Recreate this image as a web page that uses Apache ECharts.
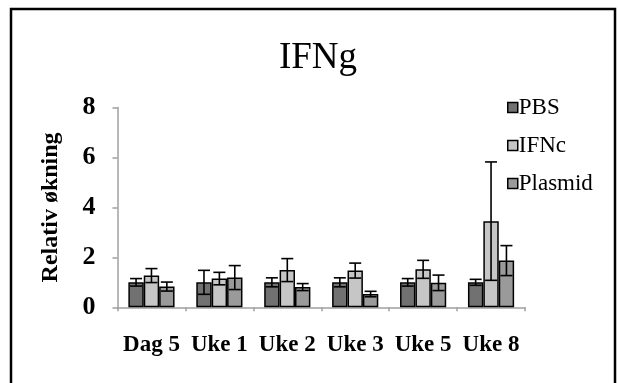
<!DOCTYPE html>
<html><head><meta charset="utf-8">
<script src="https://cdn.jsdelivr.net/npm/echarts@6/dist/echarts.min.js"></script>
<style>html,body{margin:0;padding:0;background:#fff}#c{width:618px;height:383px}</style>
</head><body><div id="c"></div>
<script>
var categories = ['Dag 5', 'Uke 1', 'Uke 2', 'Uke 3', 'Uke 5', 'Uke 8'];
var seriesNames = ['PBS', 'IFNc', 'Plasmid'];
var pbsValues = [1.0, 1.0, 1.0, 1.0, 1.0, 1.0];
var ifncValues = [1.27, 1.15, 1.49, 1.47, 1.52, 3.45];
var plasmidValues = [0.83, 1.19, 0.81, 0.53, 0.98, 1.87];
var pbsErrors = [0.15, 0.48, 0.18, 0.18, 0.15, 0.12];
var ifncErrors = [0.28, 0.25, 0.46, 0.30, 0.36, 2.37];
var plasmidErrors = [0.18, 0.48, 0.14, 0.11, 0.31, 0.60];
var yTicks = [0, 2, 4, 6, 8];

var colors = ['#717171', '#c6c6c6', '#9a9a9a'];
var values = [pbsValues, ifncValues, plasmidValues];
var errors = [pbsErrors, ifncErrors, plasmidErrors];
var catGap = 0.32;
var serif = '"Liberation Serif", "Times New Roman", serif';

var chart = echarts.init(document.getElementById('c'), null, {renderer: 'canvas'});

var series = [];
seriesNames.forEach(function (name, i) {
  series.push({
    name: name, type: 'bar', data: values[i],
    barGap: '0%', barCategoryGap: (catGap * 100) + '%',
    itemStyle: {color: colors[i], borderColor: '#000', borderWidth: 1.5},
    z: 2
  });
});
seriesNames.forEach(function (name, i) {
  series.push({
    type: 'custom', name: name + '_err',
    data: values[i].map(function (v, k) { return [k, v - errors[i][k], v + errors[i][k]]; }),
    encode: {x: 0, y: [1, 2]},
    z: 5, silent: true,
    renderItem: function (params, api) {
      var k = api.value(0);
      var lo = api.coord([k, api.value(1)]);
      var hi = api.coord([k, api.value(2)]);
      var band = api.size([1, 0])[0];
      var bw = band * (1 - catGap) / 3;
      var x = lo[0] + (i - 1) * bw;
      var cap = 6;
      var st = {stroke: '#000', lineWidth: 1.6};
      return {type: 'group', children: [
        {type: 'line', shape: {x1: x, y1: lo[1], x2: x, y2: hi[1]}, style: st},
        {type: 'line', shape: {x1: x - cap, y1: hi[1], x2: x + cap, y2: hi[1]}, style: st},
        {type: 'line', shape: {x1: x - cap, y1: lo[1], x2: x + cap, y2: lo[1]}, style: st}
      ]};
    }
  });
});

chart.setOption({
  animation: false,
  backgroundColor: '#fff',
  title: {
    text: 'IFNg', left: 313, top: 35, textAlign: 'center',
    textStyle: {fontFamily: serif, fontSize: 37, fontWeight: 'normal', color: '#000'}
  },
  legend: {
    orient: 'vertical', left: 502, top: 91,
    itemWidth: 10, itemHeight: 10, itemGap: 15,
    data: seriesNames.map(function (n, i) {
      return {name: n, icon: 'rect', itemStyle: {color: colors[i], borderColor: '#000', borderWidth: 1.5}};
    }),
    textStyle: {fontFamily: serif, fontSize: 23, color: '#000', padding: [0, 0, 0, -4], lineHeight: 23}
  },
  grid: {left: 117.5, right: 93, top: 107.5, bottom: 75.7},
  xAxis: {
    type: 'category', data: categories,
    axisLine: {lineStyle: {color: '#a0a0a0', width: 1.5}},
    axisTick: {show: true, length: 4, lineStyle: {color: '#a0a0a0', width: 1.5}},
    axisLabel: {interval: 0, fontFamily: serif, fontSize: 23, fontWeight: 'bold', color: '#000', margin: 26}
  },
  yAxis: {
    type: 'value', min: yTicks[0], max: yTicks[yTicks.length - 1], interval: 2,
    name: 'Relativ økning', nameLocation: 'middle', nameGap: 55,
    nameTextStyle: {fontFamily: serif, fontSize: 24, fontWeight: 'bold', color: '#000'},
    axisLine: {show: true, lineStyle: {color: '#a0a0a0', width: 1.5}},
    axisTick: {show: true, length: 5, lineStyle: {color: '#a0a0a0', width: 1.5}},
    splitLine: {show: false},
    axisLabel: {fontFamily: serif, fontSize: 26, fontWeight: 'bold', color: '#000', margin: 22}
  },
  graphic: [{
    type: 'rect', shape: {x: 11, y: 9, width: 604, height: 380},
    style: {fill: 'none', stroke: '#000', lineWidth: 2.5}, z: 100, silent: true
  }],
  series: series
});
</script>
</body></html>
